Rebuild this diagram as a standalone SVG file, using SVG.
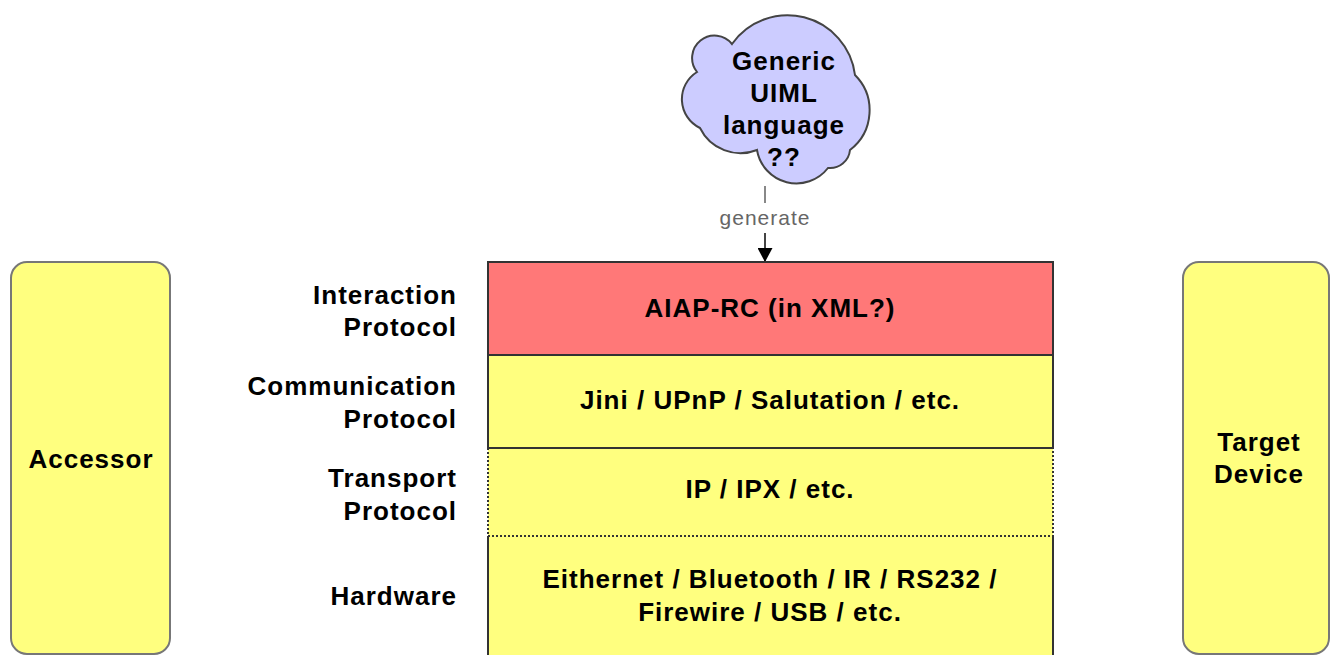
<svg xmlns="http://www.w3.org/2000/svg" width="1330" height="655" viewBox="0 0 1330 655">
  <style>
    .lbl { font-family: "Liberation Sans", Arial, sans-serif; font-weight: bold; font-size: 26px; letter-spacing: 1px; fill: #000; }
    .mid { text-anchor: middle; }
    .end { text-anchor: end; }
    .side { fill: #ffff7f; stroke: #777; stroke-width: 2; }
    .layer { stroke: #333; stroke-width: 2; }
    .yellow { fill: #ffff7f; }
    .red { fill: #ff7878; }
    .edge-lbl { font-family: "Liberation Sans", Arial, sans-serif; font-size: 21px; letter-spacing: 1px; fill: #666; text-anchor: middle; }
  </style>
  <defs>
    <marker id="arrow" viewBox="0 0 14 15" refX="14" refY="7.5" markerWidth="14" markerHeight="15" markerUnits="userSpaceOnUse" orient="auto">
      <path d="M0,0 L14,7.5 L0,15 Z" fill="#000"/>
    </marker>
  </defs>
  <rect width="1330" height="655" fill="#fff"/>

  <g id="cloud">
    <path d="M697,72 A18,18 0 0 1 732,44 A68,68 0 0 1 855,75 A50,50 0 0 1 850,150 A20,20 0 0 1 828,168 A40,40 0 0 1 757,150 A45,45 0 0 1 700,128 A32,32 0 0 1 697,72 Z" fill="#ccccff" stroke="#444" stroke-width="2"/>
    <text class="lbl mid" x="784" y="70">Generic</text>
    <text class="lbl mid" x="784" y="102">UIML</text>
    <text class="lbl mid" x="784" y="134">language</text>
    <text class="lbl mid" x="784" y="166">??</text>
  </g>

  <g id="accessor">
    <rect class="side" x="11" y="262" width="159" height="392" rx="16"/>
    <text class="lbl mid" x="91" y="468">Accessor</text>
  </g>

  <g id="target-device">
    <rect class="side" x="1183" y="262" width="146" height="392" rx="16"/>
    <text class="lbl mid" x="1259" y="451">Target</text>
    <text class="lbl mid" x="1259" y="483">Device</text>
  </g>

  <g id="labels">
    <text class="lbl end" x="457" y="304">Interaction</text>
    <text class="lbl end" x="457" y="336">Protocol</text>
    <text class="lbl end" x="457" y="395">Communication</text>
    <text class="lbl end" x="457" y="428">Protocol</text>
    <text class="lbl end" x="457" y="487">Transport</text>
    <text class="lbl end" x="457" y="520">Protocol</text>
    <text class="lbl end" x="457" y="605">Hardware</text>
  </g>

  <g id="hardware">
    <rect class="yellow" x="488" y="536" width="565" height="125"/>
    <path d="M488,536 V660 M1053,536 V660" stroke="#333" stroke-width="2" fill="none"/>
    <text class="lbl mid" x="770" y="588">Eithernet / Bluetooth / IR / RS232 /</text>
    <text class="lbl mid" x="770" y="621">Firewire / USB / etc.</text>
  </g>

  <g id="transport">
    <rect class="yellow" x="488" y="448" width="565" height="88" stroke="#333" stroke-width="2" stroke-dasharray="2,2"/>
    <text class="lbl mid" x="770" y="498">IP / IPX / etc.</text>
  </g>

  <g id="communication">
    <rect class="yellow layer" x="488" y="355" width="565" height="93"/>
    <text class="lbl mid" x="770" y="409">Jini / UPnP / Salutation / etc.</text>
  </g>

  <g id="interaction">
    <rect class="red layer" x="488" y="262" width="565" height="93"/>
    <text class="lbl mid" x="770" y="317">AIAP-RC (in XML?)</text>
  </g>

  <g id="connectors">
    <line x1="765" y1="186" x2="765" y2="203" stroke="#888" stroke-width="2"/>
    <text class="edge-lbl" x="765" y="225">generate</text>
    <line x1="765" y1="233" x2="765" y2="262" stroke="#444" stroke-width="2" marker-end="url(#arrow)"/>
  </g>
</svg>
